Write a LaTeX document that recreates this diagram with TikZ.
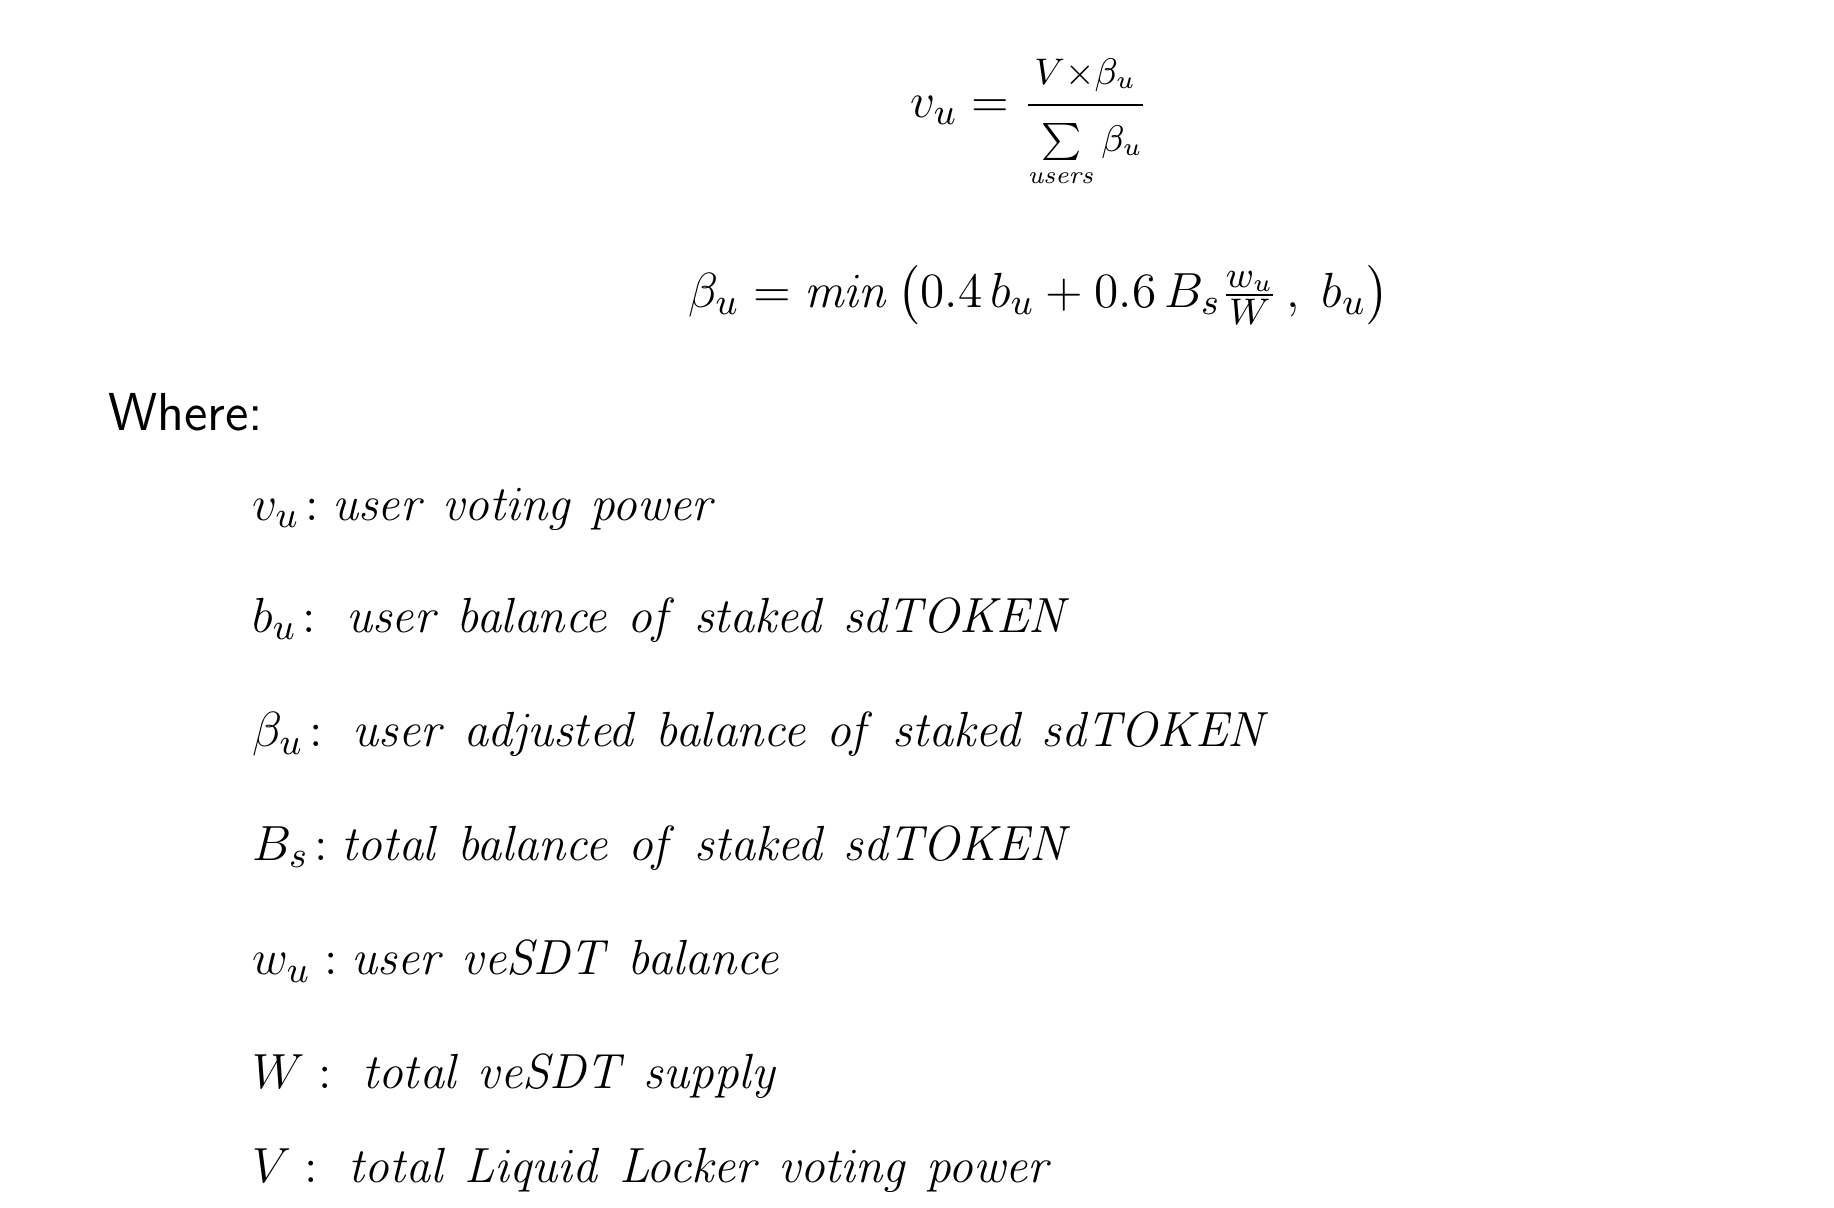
\documentclass[tikz,border=0pt]{standalone}
\usepackage{amsmath}
\begin{document}
\begin{tikzpicture}[x=0.01cm,y=-0.01cm,
  def/.style={anchor=west,inner sep=0pt,font=\fontsize{12.5}{15}\selectfont},
  eq/.style={inner sep=0pt,font=\fontsize{12.5}{15}\selectfont}]
\useasboundingbox (0,0) rectangle (1568,1032);
\node[eq] (f1) at (880,105) {$v_{u}=\dfrac{\scriptstyle V\times\beta_{u}}{\scriptstyle\sum\limits_{\mathit{users}}\beta_{u}}$};
\node[eq] (f2) at (888,252) {$\beta_{u}=\mathit{min}\left(0.4\,b_{u}+0.6\,B_{s}\tfrac{w_{u}}{W}\,,\;b_{u}\right)$};
\node[anchor=west,inner sep=0pt,font=\sffamily\fontsize{13}{16}\selectfont] (where) at (92,352) {Where:};
\node[def] (d1) at (215,435) {$v_{u}\!:\mathit{user\ voting\ power}$};
\node[def] (d2) at (215,530) {$b_{u}\!:\ \mathit{user\ balance\ of\ staked\ sdTOKEN}$};
\node[def] (d3) at (215,628) {$\beta_{u}\!:\ \mathit{user\ adjusted\ balance\ of\ staked\ sdTOKEN}$};
\node[def] (d4) at (215,725) {$B_{s}\!:\mathit{total\ balance\ of\ staked\ sdTOKEN}$};
\node[def] (d5) at (215,822) {$w_{u}:\mathit{user\ veSDT\ balance}$};
\node[def] (d6) at (215,920) {$W:\ \mathit{total\ veSDT\ supply}$};
\node[def] (d7) at (215,1000) {$V:\ \mathit{total\ Liquid\ Locker\ voting\ power}$};
\end{tikzpicture}
\end{document}
